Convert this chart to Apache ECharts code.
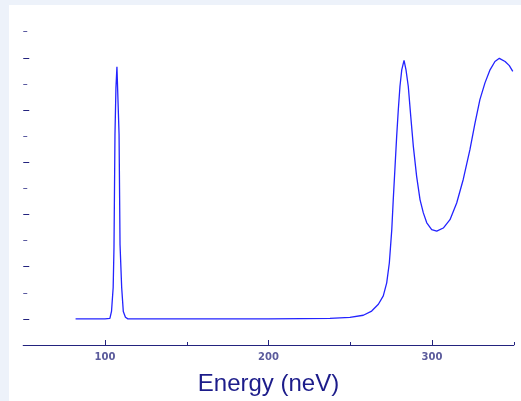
<!DOCTYPE html>
<html>
<head>
<meta charset="utf-8">
<script src="https://cdn.jsdelivr.net/npm/echarts@6/dist/echarts.min.js"></script>
<style>
  html, body { margin: 0; padding: 0; background: #edf2fa; }
  #wrap { position: relative; width: 521px; height: 401px; background: #edf2fa; }
  #chart { position: absolute; left: 9px; top: 5px; width: 512px; height: 396px; background: #fff; }
</style>
</head>
<body>
<div id="wrap"><div id="chart"></div></div>
<script>
// spectrum (energy in neV, intensity in arbitrary units)
const energy = [
  82, 90, 100, 103, 104, 105, 105.5, 106.1, 106.7, 107.3, 108.1, 108.6, 109.2,
  110.2, 111.2, 112.5, 114, 130, 160, 200, 220,
  237.6, 249.8, 258, 263.1, 267.2, 270.2, 272.3, 273.9, 275.4, 276.3, 277.4,
  278.4, 279.4, 280.4, 281.5, 282.9, 284.1, 285.5, 287, 288.6, 290.6, 292.7,
  294.7, 296.8, 299.8, 302.9, 306.9, 311, 315.1, 319.1, 323.2, 326.3, 329.3,
  332.4, 335.5, 338.5, 341.2, 344.7, 347.3, 349.4
];
const intensity = [
  0, 0, 0, 0.01, 0.15, 0.6, 1.37, 3.53, 4.43, 4.83, 4.81, 3.53, 1.42,
  0.6, 0.14, 0.03, 0, 0, 0, 0, 0.005,
  0.01, 0.03, 0.07, 0.15, 0.28, 0.44, 0.69, 1.07, 1.71, 2.28, 2.92,
  3.5, 4.01, 4.45, 4.77, 4.95, 4.77, 4.45, 3.88, 3.3, 2.73, 2.28,
  2.03, 1.84, 1.71, 1.68, 1.74, 1.9, 2.22, 2.67, 3.24, 3.75, 4.2,
  4.52, 4.77, 4.93, 4.99, 4.93, 4.85, 4.74
];
const majorX = [100, 200, 300];
const minorX = [150, 250, 350];
const majorY = [0, 1, 2, 3, 4, 5];
const minorY = [0.5, 1.5, 2.5, 3.5, 4.5, 5.5];

const chart = echarts.init(document.getElementById('chart'));

const axisColor = '#23237e';

chart.setOption({
  animation: false,
  grid: { left: 14.25, right: 7.25, top: 26.7, bottom: 56, outerBoundsMode: 'none' },
  xAxis: [
    {
      type: 'value',
      min: 50,
      max: 350,
      name: 'Energy (neV)',
      nameLocation: 'middle',
      nameGap: 27,
      nameTextStyle: {
        fontFamily: 'Liberation Sans',
        fontSize: 24,
        color: '#1c1c8a'
      },
      axisLine: { onZero: false, lineStyle: { color: axisColor, width: 1.2 } },
      axisTick: {
        inside: true,
        length: 5,
        customValues: majorX,
        lineStyle: { color: axisColor }
      },
      axisLabel: {
        customValues: majorX,
        margin: 7,
        fontFamily: 'DejaVu Sans',
        fontSize: 10,
        fontWeight: 'bold',
        color: '#5b5b9c'
      },
      splitLine: { show: false }
    },
    {
      type: 'value',
      min: 50,
      max: 350,
      position: 'bottom',
      axisLine: { show: false, onZero: false },
      axisTick: {
        inside: true,
        length: 3,
        customValues: minorX,
        lineStyle: { color: axisColor }
      },
      axisLabel: { show: false },
      splitLine: { show: false }
    }
  ],
  yAxis: [
    {
      type: 'value',
      min: -0.5,
      max: 5.5,
      axisLine: { show: false, onZero: false },
      axisTick: {
        show: true,
        inside: true,
        length: 6,
        customValues: majorY,
        lineStyle: { color: axisColor }
      },
      axisLabel: { show: false },
      splitLine: { show: false }
    },
    {
      type: 'value',
      min: -0.5,
      max: 5.5,
      position: 'left',
      axisLine: { show: false, onZero: false },
      axisTick: {
        show: true,
        inside: true,
        length: 4,
        customValues: minorY,
        lineStyle: { color: '#5a5aa0' }
      },
      axisLabel: { show: false },
      splitLine: { show: false }
    }
  ],
  series: [
    {
      type: 'line',
      data: energy.map((e, i) => [e, intensity[i]]),
      showSymbol: false,
      lineStyle: { color: '#2323ff', width: 1.3 }
    }
  ]
});
</script>
</body>
</html>
